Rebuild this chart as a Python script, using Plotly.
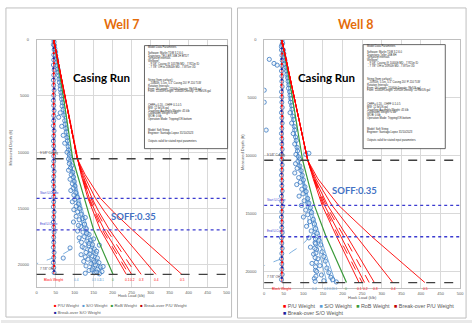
import plotly.graph_objects as go

W, H = 476, 323

# ---------------- shared friction-factor sets ----------------
pu_ff = ["0.1", "0.15", "0.2", "0.25", "0.3", "0.4", "0.5"]
pu_ff_labelled = ["0.1", "0.2", "0.3", "0.4", "0.5"]
so_ff = ["0.1", "0.2", "0.3"]

# ---------------- Well 7 ----------------
w7_shoe_md = 10578
w7_start_u_md = 14100
w7_end_u_md = 16900
w7_td_md = 20844
w7_block_wt = 45

w7_pu_md = [0, 10578, 12000, 14100, 15240, 16900, 20844]
w7_pu_load = [
    [45, 107, 117, 135, 148, 168, 236],
    [45, 107, 118, 137, 151, 173, 243],
    [45, 107, 119, 139, 154, 178, 250],
    [45, 107, 120, 143, 158, 185, 262],
    [45, 107, 121, 146, 163, 192, 275],
    [45, 107, 124, 155, 178, 215, 314],
    [45, 107, 128, 168, 200, 252, 382],
]
w7_rob_md = [0, 5000, 10578, 14100, 16900, 20844]
w7_rob_load = [45, 70, 95, 125, 150, 201]
w7_so_md = [0, 10578, 14100, 16900, 20844]
w7_so_load = [
    [45, 88, 113, 135, 172],
    [45, 88, 110, 130, 163],
    [45, 88, 106, 124, 150],
]
w7_so04_md = [0, 10578, 14100, 16200, 17000, 17700, 18500, 19030, 19470, 19900]
w7_so04_load = [45, 88, 104, 118, 122, 115, 94, 70, 36, 0]

w7_meas_md = [
    200, 500, 800, 1100, 1400, 1700, 2000, 2300, 2600, 2900,
    3200, 3500, 3800, 4100, 4400, 4700, 5000, 5300, 5600, 5900,
    6200, 6500, 6700, 6900, 7200, 7500, 7700, 7900, 8200, 8500,
    8700, 9000, 9200, 9500, 9800, 10000, 10200, 10400, 10600, 10800,
    11000, 11200, 11400, 11600, 11800, 12000, 12200, 12400, 12600, 12800,
    13000, 13200, 13400, 13600, 13800, 14000, 14200, 14400, 14600, 14800,
    15000, 15100, 15300, 15500, 15700, 15900, 16000, 16200, 16400, 16600,
    16800, 17000, 17100, 17300, 17500, 17600, 17800, 17900, 18000, 18200,
    18300, 18500, 18600, 18700, 18900, 19000, 19100, 19200, 19400, 19500,
    19600, 19700, 19800, 19900, 20000, 20100, 20200, 20300, 20400, 20500,
    20600, 20700, 20800, 15800, 16500, 17200, 17700, 18100, 18400, 18800,
    19300, 19750, 20150, 20450, 20650, 20750, 18250, 19050, 18500, 19400,
]
w7_meas_so = [
    46, 47, 48, 50, 50, 52, 53, 54, 56, 57,
    58, 59, 60, 62, 62, 64, 65, 66, 68, 67,
    70, 62, 72, 58, 74, 75, 66, 77, 78, 70,
    80, 81, 74, 83, 84, 80, 86, 87, 84, 88,
    86, 92, 89, 84, 95, 91, 97, 88, 99, 94,
    101, 96, 90, 103, 98, 107, 100, 94, 110, 104,
    113, 98, 108, 117, 104, 121, 112, 97, 126, 116,
    131, 108, 122, 138, 126, 112, 143, 132, 118, 147,
    137, 125, 152, 142, 130, 156, 117, 146, 160, 135,
    150, 124, 164, 143, 155, 130, 168, 148, 160, 138,
    172, 152, 165, 128, 110, 132, 150, 138, 120, 158,
    128, 152, 175, 146, 158, 128, 165, 140, 88, 70,
]

# ---------------- Well 8 ----------------
w8_shoe_md = 10400
w8_start_u_md = 14300
w8_end_u_md = 17000
w8_td_md = 20950
w8_block_wt = 45

w8_pu_md = [0, 10400, 12000, 14300, 17000, 20950]
w8_pu_load = [
    [45, 111, 125, 148, 185, 242],
    [45, 111, 126, 151, 190, 250],
    [45, 111, 127, 154, 196, 256],
    [45, 111, 128, 158, 204, 268],
    [45, 111, 129, 162, 212, 281],
    [45, 111, 132, 173, 236, 328],
    [45, 111, 137, 190, 275, 410],
]
w8_rob_md = [0, 5000, 10400, 14300, 17000, 20950]
w8_rob_load = [45, 72, 98, 128, 158, 210]
w8_so_md = [0, 10400, 14300, 17000, 20950]
w8_so_load = [
    [45, 88, 118, 143, 182],
    [45, 88, 115, 137, 172],
    [45, 88, 111, 130, 160],
]
w8_so04_md = [0, 10400, 14300, 16500, 17200, 17780, 18300, 18800, 19150, 19490]
w8_so04_load = [45, 88, 107, 114, 110, 93, 70, 50, 25, 0]

w8_meas_md = [
    300, 600, 900, 1200, 1500, 1800, 2100, 2400, 2700, 3000,
    3300, 3600, 3900, 4200, 4500, 4800, 5100, 5400, 5700, 6000,
    6300, 6600, 6900, 7200, 7500, 7800, 8100, 8400, 8700, 9000,
    9300, 9600, 9900, 10100, 10300, 10500, 10700, 10900, 11100, 11300,
    11500, 11700, 11900, 12100, 12300, 12500, 12700, 12900, 13100, 13300,
    13500, 13700, 13900, 14100, 14300, 14500, 14700, 14900, 15100, 15300,
    15500, 15700, 15900, 16100, 16300, 16500, 16700, 16900, 17100, 17300,
    17500, 17700, 17900, 18100, 18300, 18500, 18700, 18900, 19100, 19300,
    19500, 19700, 19900, 20100, 20300, 20500, 20600, 20700, 20800, 20900,
    17200, 17600, 18000, 18400, 18800, 19200, 19600, 20000, 20400, 20850,
    1700, 2050, 2200, 4360, 5400, 7800, 9800, 9900,
]
w8_meas_so = [
    47, 44, 49, 50, 51, 53, 52, 56, 57, 58,
    60, 61, 63, 62, 65, 66, 68, 67, 70, 71,
    66, 73, 75, 70, 77, 78, 74, 80, 82, 78,
    84, 85, 81, 87, 90, 86, 80, 91, 84, 94,
    78, 97, 88, 100, 92, 83, 104, 96, 107, 99,
    89, 111, 102, 114, 95, 118, 106, 121, 111, 100,
    125, 116, 128, 108, 131, 120, 135, 126, 114, 139,
    130, 144, 118, 133, 148, 126, 152, 137, 156, 122,
    142, 160, 131, 165, 146, 170, 128, 175, 152, 184,
    131, 131, 129, 132, 130, 133, 131, 134, 132, 130,
    13, 25, 33, 0, 0, 5, 114, 106,
]

# ---------------- readings taken at block weight (both wells) ----------------
bw_md = [0, 450, 900, 1350, 1800, 2250, 2700, 3150, 3600, 4050, 4500, 4950,
         5400, 5850, 6300, 6750, 7200, 7650, 8100, 8550, 9000, 9450, 9900,
         10350, 10800, 11250, 11700, 12150, 12600, 13050, 13500, 13950, 14400,
         14850, 15300, 15750, 16200, 16650, 17100, 17550, 18000, 18450, 18900,
         19350, 19800, 20250, 20700]
w7_bw_so = [45, 44, 46, 45, 45, 44, 46, 45, 44, 45, 46, 45, 44, 45, 46, 45,
            45, 44, 46, 45, 44, 45, 46, 45, 45, 44, 46, 45, 44, 45, 46, 45,
            45, 44, 46, 45, 44, 45, 46, 45, 45, 44, 46, 45, 44, 45, 46]
w8_bw_so = [46, 45, 44, 45, 46, 45, 44, 45, 45, 46, 44, 45, 45, 46, 44, 45,
            46, 45, 44, 45, 45, 46, 44, 45, 46, 45, 44, 45, 45, 46, 44, 45,
            46, 45, 44, 45, 45, 46, 44, 45, 46, 45, 44, 45, 45, 46, 44]
pu_meas_md = [300, 1200, 2100, 3000, 3900, 4800, 5700, 6600, 7500, 8400, 9300,
              10200, 11100, 12000, 12900, 13800, 14700, 15600, 16500, 17400,
              18300, 19200, 20100]
w7_pu_meas = [45, 45, 46, 45, 45, 44, 45, 45, 46, 45, 45, 45, 44, 45, 45, 46,
              45, 45, 45, 44, 45, 45, 46]
w8_pu_meas = [45, 46, 45, 45, 44, 45, 45, 46, 45, 45, 45, 44, 45, 45, 46, 45,
              45, 45, 44, 45, 45, 46, 45]
bo_so_md = [750, 1650, 2550, 3450, 4350, 5250, 6150, 7050, 7950, 8850, 9750,
            10650, 11550, 12450, 13350, 14250, 15150, 16050, 16950, 17850,
            18750, 19650, 20550]
w7_bo_so = [45, 45, 44, 45, 46, 45, 45, 44, 45, 45, 46, 45, 45, 44,
            45, 45, 46, 45, 45, 44, 45, 45, 46]
w8_bo_so = [45, 44, 45, 45, 46, 45, 44, 45, 45, 46, 45, 45, 44, 45, 45, 46,
            45, 45, 44, 45, 45, 46, 45]

# ---------------- colours ----------------
RED = "#FF0000"
DARK_RED = "#C00000"
GREEN = "#3A9A3A"
SO_BLUE = "#5B9BD5"
MEAS_BLUE = "#3A78C2"
NAVY = "#1F1F9E"
GRID = "#D9D9D9"
TXT = "#595959"
SANS = "Liberation Sans, Arial, sans-serif"
CAL = "Lato, Carlito, sans-serif"


def px(x):
    return x / W


def py(y):
    return 1 - y / H


fig = go.Figure()
shapes = []
annotations = []


def note(x, y, text, size, color, family=SANS, xanchor="center", **kw):
    """Text placed in page pixels (paper coordinates)."""
    annotations.append(dict(xref="paper", yref="paper", x=px(x), y=py(y),
                            text=text, showarrow=False, xanchor=xanchor,
                            yanchor="middle",
                            font=dict(size=size, color=color, family=family),
                            **kw))


def draw_well(xa, ya, pu_md, pu_load, rob_md, rob_load, so_md, so_load,
              so04_md, so04_load, meas_md, meas_so, bw_so, pu_meas, bo_so,
              block_wt, shoe, start_u, end_u, td, so04_label_x, lab_font):
    common = dict(xaxis=xa, yaxis=ya, showlegend=False, hoverinfo="skip")
    # slack-off model lines (under the measured cloud)
    for load in so_load:
        fig.add_trace(go.Scatter(x=load, y=so_md, mode="lines",
                                 line=dict(color=SO_BLUE, width=0.8), **common))
    fig.add_trace(go.Scatter(x=so04_load, y=so04_md, mode="lines",
                             line=dict(color=SO_BLUE, width=0.8, dash="dash",
                                       shape="spline", smoothing=0.8), **common))
    # block weight
    fig.add_trace(go.Scatter(x=[block_wt, block_wt], y=[0, td], mode="lines",
                             line=dict(color=RED, width=1.2), **common))
    # measured slack-off weights
    fig.add_trace(go.Scatter(x=bw_so, y=bw_md, mode="markers",
                             marker=dict(symbol="circle", size=4.0,
                                         color="rgba(222,235,247,0.3)",
                                         line=dict(color=MEAS_BLUE, width=0.8)),
                             **common))
    fig.add_trace(go.Scatter(x=meas_so, y=meas_md, mode="markers",
                             marker=dict(symbol="circle", size=4.2,
                                         color="rgba(222,235,247,0.35)",
                                         line=dict(color=MEAS_BLUE, width=0.8)),
                             **common))
    fig.add_trace(go.Scatter(x=pu_meas, y=pu_meas_md, mode="markers",
                             marker=dict(size=2.2, color=RED), **common))
    fig.add_trace(go.Scatter(x=bo_so, y=bo_so_md, mode="markers",
                             marker=dict(size=2.2, color=NAVY), **common))
    # rotating off-bottom
    fig.add_trace(go.Scatter(x=rob_load, y=rob_md, mode="lines",
                             line=dict(color=GREEN, width=1.2), **common))
    # pick-up model fan
    for ff, load in zip(pu_ff, pu_load):
        dash = "dash" if ff in ("0.15", "0.25") else "solid"
        fig.add_trace(go.Scatter(x=load, y=pu_md, mode="lines",
                                 line=dict(color=RED, width=0.9, dash=dash),
                                 **common))

    xd, xr, yr = xa + " domain", xa, ya
    # casing shoe / TD (black dashed) and U-curve limits (blue dotted)
    for md in (shoe, td):
        shapes.append(dict(type="line", xref=xd, x0=0, x1=1, yref=yr, y0=md,
                           y1=md, line=dict(color="#404040", width=1.3,
                                            dash="dash"), layer="above"))
    for md in (start_u, end_u):
        shapes.append(dict(type="line", xref=xd, x0=0, x1=1, yref=yr, y0=md,
                           y1=md, line=dict(color="#3B3BD0", width=1.3,
                                            dash="dot"), layer="above"))
    for md, txt, col in ((shoe, '9 5/8" Casing', "#404040"),
                         (start_u, "Start U-Curve", "#3B3BD0"),
                         (end_u, "End U-Curve", "#3B3BD0"),
                         (td, '7 7/8" OH', "#404040")):
        annotations.append(dict(xref=xd, x=0.005, yref=yr, y=md, yshift=1.5,
                                text=txt, showarrow=False, xanchor="left",
                                yanchor="bottom",
                                font=dict(size=3.0, color=col, family=SANS)))
    annotations.append(dict(xref=xr, x=block_wt, yref=yr, y=td, yshift=-2,
                            text="Block Weight", showarrow=False,
                            xanchor="center", yanchor="top",
                            font=dict(size=3.3, color=RED, family=SANS)))
    # friction-factor tags at total depth
    for ff, load in zip(pu_ff, pu_load):
        if ff in pu_ff_labelled:
            annotations.append(dict(xref=xr, x=load[-1] + 2, yref=yr, y=td,
                                    yshift=-2, text=ff, showarrow=False,
                                    xanchor="center", yanchor="top",
                                    font=dict(size=lab_font, color=RED,
                                              family=SANS)))
    for ff, load in zip(so_ff, so_load):
        annotations.append(dict(xref=xr, x=load[-1], yref=yr, y=td, yshift=-2,
                                text=ff, showarrow=False, xanchor="center",
                                yanchor="top",
                                font=dict(size=lab_font - 0.4, color=SO_BLUE,
                                          family=SANS)))
    annotations.append(dict(xref=xr, x=so04_label_x, yref=yr, y=td, yshift=-2,
                            text="0.4", showarrow=False, xanchor="center",
                            yanchor="top",
                            font=dict(size=lab_font, color=SO_BLUE, family=SANS)))
    annotations.append(dict(xref=xr, x=rob_load[-1], yref=yr, y=td, yshift=-2,
                            text="0", showarrow=False, xanchor="center",
                            yanchor="top",
                            font=dict(size=lab_font, color=GREEN, family=SANS)))


draw_well("x", "y", w7_pu_md, w7_pu_load, w7_rob_md, w7_rob_load, w7_so_md,
          w7_so_load, w7_so04_md, w7_so04_load, w7_meas_md, w7_meas_so,
          w7_bw_so, w7_pu_meas, w7_bo_so, w7_block_wt, w7_shoe_md,
          w7_start_u_md, w7_end_u_md, w7_td_md, 104, 3.2)
draw_well("x2", "y2", w8_pu_md, w8_pu_load, w8_rob_md, w8_rob_load, w8_so_md,
          w8_so_load, w8_so04_md, w8_so04_load, w8_meas_md, w8_meas_so,
          w8_bw_so, w8_pu_meas, w8_bo_so, w8_block_wt, w8_shoe_md,
          w8_start_u_md, w8_end_u_md, w8_td_md, 128, 3.4)

# ---------------- panel frames and page strip ----------------
for x0, x1, y0, y1 in ((5, 233, 5, 317), (239, 470, 5, 318)):
    shapes.append(dict(type="rect", xref="paper", yref="paper", x0=px(x0),
                       x1=px(x1), y0=py(y1), y1=py(y0),
                       line=dict(color="#BFBFBF", width=1), layer="below",
                       fillcolor="white"))
shapes.append(dict(type="rect", xref="paper", yref="paper", x0=0, x1=1,
                   y0=0, y1=py(320), line=dict(width=0), fillcolor="#E9E9E9",
                   layer="below"))

# ---------------- model parameter boxes ----------------
w7_params = [
    "Model Data Parameters", "",
    "Software: Marlin TDM 3.2.6.0",
    "Trajectory: TELLER 16B 2H BTDT",
    "Tortuosity Intervals",
    "Wellbore:",
    ' - 9 5/8" Casing @ 10578ft MD - 7.921in ID',
    ' - 7 7/8" OH to 20844ft MD - 7.875in OD', "", "", "", "",
    "String (from surface):",
    ' - 20844ft, 5.5in, 5.5" Casing 20# P-110 TLW',
    "Rotation Intervals:",
    "From: 0ft Length: 11160ft Density: 9lb/US gal",
    "From: 11160ft Length: 20844ft Density: 11.9lb/US gal", "", "", "", "",
    "CHFF= 0.20 - OHFF 0.1-0.5",
    "MW: 12 lb/US gal",
    "Travelling Assembly Weight: 45 klb",
    "Calibration Weight: 0 klb",
    "WOB: 0 klb",
    "Operation Mode: Tripping/Off-bottom", "", "", "",
    "Model: Soft String",
    "Engineer: Santiago.Lopez 31/10/2023", "", "",
    "Outputs valid for stated input parameters",
]
w8_params = [
    "Model Data Parameters", "",
    "Software: Marlin TDM 3.2.6.0",
    "Trajectory: Teller 16B 8H",
    "Tortuosity Intervals",
    "Wellbore:",
    ' - 9 5/8" Casing @ 10400ft MD - 7.921in ID',
    ' - 7 7/8" OH to 20950ft MD - 7.875in OD', "", "", "", "",
    "String (from surface):",
    ' - 20950ft, 5.5in, 5.5" Casing 20# P-110 TLW',
    "Rotation Intervals:",
    "From: 0ft Length: 11060ft Density: 9lb/US gal",
    "From: 11060ft Length: 20950ft Density: 11.9lb/US gal", "", "", "", "",
    "CHFF= 0.20 - OHFF 0.1-0.5",
    "MW: 12 lb/US gal",
    "Travelling Assembly Weight: 45 klb",
    "Calibration Weight: 0 klb",
    "WOB: 0 klb",
    "Operation Mode: Tripping/Off-bottom", "", "", "",
    "Model: Soft String",
    "Engineer: Santiago.Lopez 31/10/2023", "", "",
    "Outputs valid for stated input parameters",
]
for (bx0, bx1, by0, by1), lines in (((145, 229, 43, 147), w7_params),
                                     ((366, 449, 42, 147), w8_params)):
    shapes.append(dict(type="rect", xref="paper", yref="paper", x0=px(bx0),
                       x1=px(bx1), y0=py(by1), y1=py(by0),
                       line=dict(color="#404040", width=0.8),
                       fillcolor="white", layer="above"))
    for i, t in enumerate(lines):
        if t:
            note(bx0 + 2, by0 + 1.8 + i * 2.78, t, 2.7, "#262626",
                 xanchor="left")

# ---------------- titles and call-outs ----------------
for cx, t in ((122, "Well 7"), (359, "Well 8")):
    note(cx, 22, "<b>%s</b>" % t, 12.5, "#E46C0A", family=CAL)
for cx, cy in ((102, 75), (329, 75)):
    note(cx, cy, "<b>Casing Run</b>", 11.5, "black", family=CAL)
for cx, cy in ((134, 215), (357, 189)):
    note(cx, cy, "<b>SOFF:0.35</b>", 9.5, "#4472C4", family=CAL)

# axis titles
for cx, cy, fs in ((132, 296, 3.8), (365, 297, 4.0)):
    note(cx, cy, "Hook Load (klb)", fs, TXT)
for cx, cy in ((10, 146), (244, 150)):
    note(cx, cy, "Measured Depth (ft)", 4, TXT, textangle=-90)


# legends
def sw(col):
    return '<span style="color:%s">■</span>' % col


leg1 = ("%s P/U Weight   %s S/O Weight   %s RoB Weight   %s Break-over P/U Weight"
        % (sw(RED), sw(SO_BLUE), sw(GREEN), sw(DARK_RED)))
leg2 = "%s Break-over S/O Weight" % sw(NAVY)
for lx, ly1, ly2, fs in ((52, 305, 312, 4.2), (283, 306, 313, 5.4)):
    note(lx, ly1, leg1, fs, TXT, xanchor="left")
    note(lx, ly2, leg2, fs, TXT, xanchor="left")

axis_common = dict(showgrid=True, gridcolor=GRID, gridwidth=0.8, zeroline=False,
                   showline=True, linecolor="#BFBFBF", linewidth=0.8,
                   mirror=True, ticks="", fixedrange=True, tickformat="d",
                   tickfont=dict(size=4, color=TXT, family=SANS))

fig.update_layout(
    width=W, height=H, autosize=False,
    margin=dict(l=0, r=0, t=0, b=0),
    paper_bgcolor="white", plot_bgcolor="white",
    showlegend=False,
    xaxis=dict(domain=[px(36), px(228)], range=[0, 500], dtick=50, tick0=0,
               anchor="y", ticklabelstandoff=1, **axis_common),
    yaxis=dict(domain=[py(287), py(37)], range=[22000, 0], dtick=5000,
               tick0=0, anchor="x", ticklabelstandoff=6, **axis_common),
    xaxis2=dict(domain=[px(266), px(464)], range=[0, 500], dtick=50, tick0=0,
                anchor="y2", ticklabelstandoff=1, **axis_common),
    yaxis2=dict(domain=[py(288), py(37)], range=[21450, 0], dtick=5000,
                tick0=0, anchor="x2", ticklabelstandoff=6, **axis_common),
    shapes=shapes,
    annotations=annotations,
)

fig.write_html("out.html")
